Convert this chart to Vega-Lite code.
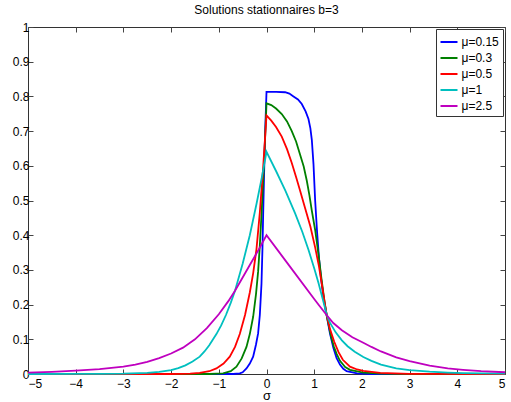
{
  "$schema": "https://vega.github.io/schema/vega-lite/v6.json",
  "width": 477,
  "height": 347,
  "autosize": {"type": "none"},
  "padding": {"left": 28, "top": 27, "right": 6, "bottom": 28},
  "title": {"text": "Solutions stationnaires b=3", "fontSize": 12, "fontWeight": "normal", "font": "Liberation Sans", "color": "black", "offset": 4},
  "config": {
    "font": "Liberation Sans",
    "view": {"stroke": "#333", "strokeWidth": 1},
    "axis": {"grid": false, "domain": false, "tickSize": -5, "tickColor": "#444", "labelFontSize": 12, "labelColor": "black", "labelFont": "Liberation Sans", "labelPadding": 4, "titleFont": "Liberation Sans", "titleFontWeight": "normal", "titleColor": "black"},
    "legend": {"strokeColor": "#333", "fillColor": "white", "padding": 3.5, "cornerRadius": 0}
  },
  "data": {"values": [
    {"mu":"μ=0.15","sigma":-5,"p":0},{"mu":"μ=0.15","sigma":-0.7,"p":0},{"mu":"μ=0.15","sigma":-0.56,"p":0.002},{"mu":"μ=0.15","sigma":-0.5,"p":0.005},{"mu":"μ=0.15","sigma":-0.42,"p":0.016},{"mu":"μ=0.15","sigma":-0.35,"p":0.03},{"mu":"μ=0.15","sigma":-0.28,"p":0.05},{"mu":"μ=0.15","sigma":-0.22,"p":0.085},{"mu":"μ=0.15","sigma":-0.176,"p":0.117},{"mu":"μ=0.15","sigma":-0.14,"p":0.17},{"mu":"μ=0.15","sigma":-0.105,"p":0.26},{"mu":"μ=0.15","sigma":-0.085,"p":0.36},{"mu":"μ=0.15","sigma":-0.07,"p":0.46},{"mu":"μ=0.15","sigma":-0.05,"p":0.58},{"mu":"μ=0.15","sigma":-0.03,"p":0.69},{"mu":"μ=0.15","sigma":0,"p":0.813},{"mu":"μ=0.15","sigma":0.1,"p":0.813},{"mu":"μ=0.15","sigma":0.2,"p":0.813},{"mu":"μ=0.15","sigma":0.39,"p":0.812},{"mu":"μ=0.15","sigma":0.48,"p":0.808},{"mu":"μ=0.15","sigma":0.566,"p":0.8},{"mu":"μ=0.15","sigma":0.66,"p":0.791},{"mu":"μ=0.15","sigma":0.74,"p":0.778},{"mu":"μ=0.15","sigma":0.82,"p":0.757},{"mu":"μ=0.15","sigma":0.88,"p":0.735},{"mu":"μ=0.15","sigma":0.92,"p":0.708},{"mu":"μ=0.15","sigma":0.95,"p":0.675},{"mu":"μ=0.15","sigma":0.985,"p":0.605},{"mu":"μ=0.15","sigma":1.02,"p":0.5},{"mu":"μ=0.15","sigma":1.06,"p":0.41},{"mu":"μ=0.15","sigma":1.1,"p":0.335},{"mu":"μ=0.15","sigma":1.14,"p":0.28},{"mu":"μ=0.15","sigma":1.2,"p":0.215},{"mu":"μ=0.15","sigma":1.26,"p":0.17},{"mu":"μ=0.15","sigma":1.33,"p":0.117},{"mu":"μ=0.15","sigma":1.4,"p":0.076},{"mu":"μ=0.15","sigma":1.47,"p":0.046},{"mu":"μ=0.15","sigma":1.54,"p":0.027},{"mu":"μ=0.15","sigma":1.61,"p":0.015},{"mu":"μ=0.15","sigma":1.68,"p":0.008},{"mu":"μ=0.15","sigma":1.9,"p":0.002},{"mu":"μ=0.15","sigma":2.2,"p":0},{"mu":"μ=0.15","sigma":5,"p":0},
    {"mu":"μ=0.3","sigma":-5,"p":0},{"mu":"μ=0.3","sigma":-1.2,"p":0},{"mu":"μ=0.3","sigma":-0.91,"p":0.002},{"mu":"μ=0.3","sigma":-0.75,"p":0.008},{"mu":"μ=0.3","sigma":-0.63,"p":0.021},{"mu":"μ=0.3","sigma":-0.52,"p":0.045},{"mu":"μ=0.3","sigma":-0.42,"p":0.078},{"mu":"μ=0.3","sigma":-0.35,"p":0.115},{"mu":"μ=0.3","sigma":-0.28,"p":0.165},{"mu":"μ=0.3","sigma":-0.22,"p":0.23},{"mu":"μ=0.3","sigma":-0.176,"p":0.295},{"mu":"μ=0.3","sigma":-0.14,"p":0.37},{"mu":"μ=0.3","sigma":-0.105,"p":0.46},{"mu":"μ=0.3","sigma":-0.05,"p":0.61},{"mu":"μ=0.3","sigma":0,"p":0.78},{"mu":"μ=0.3","sigma":0.1,"p":0.775},{"mu":"μ=0.3","sigma":0.2,"p":0.765},{"mu":"μ=0.3","sigma":0.32,"p":0.749},{"mu":"μ=0.3","sigma":0.43,"p":0.728},{"mu":"μ=0.3","sigma":0.53,"p":0.7},{"mu":"μ=0.3","sigma":0.62,"p":0.67},{"mu":"μ=0.3","sigma":0.7,"p":0.634},{"mu":"μ=0.3","sigma":0.78,"p":0.598},{"mu":"μ=0.3","sigma":0.845,"p":0.557},{"mu":"μ=0.3","sigma":0.9,"p":0.515},{"mu":"μ=0.3","sigma":0.95,"p":0.471},{"mu":"μ=0.3","sigma":1.02,"p":0.415},{"mu":"μ=0.3","sigma":1.09,"p":0.345},{"mu":"μ=0.3","sigma":1.15,"p":0.277},{"mu":"μ=0.3","sigma":1.21,"p":0.215},{"mu":"μ=0.3","sigma":1.26,"p":0.17},{"mu":"μ=0.3","sigma":1.35,"p":0.11},{"mu":"μ=0.3","sigma":1.41,"p":0.08},{"mu":"μ=0.3","sigma":1.47,"p":0.058},{"mu":"μ=0.3","sigma":1.54,"p":0.038},{"mu":"μ=0.3","sigma":1.65,"p":0.02},{"mu":"μ=0.3","sigma":1.75,"p":0.012},{"mu":"μ=0.3","sigma":2.03,"p":0.004},{"mu":"μ=0.3","sigma":2.4,"p":0.001},{"mu":"μ=0.3","sigma":3,"p":0},{"mu":"μ=0.3","sigma":5,"p":0},
    {"mu":"μ=0.5","sigma":-5,"p":0},{"mu":"μ=0.5","sigma":-2,"p":0},{"mu":"μ=0.5","sigma":-1.6,"p":0.001},{"mu":"μ=0.5","sigma":-1.4,"p":0.003},{"mu":"μ=0.5","sigma":-1.2,"p":0.008},{"mu":"μ=0.5","sigma":-1.05,"p":0.016},{"mu":"μ=0.5","sigma":-0.9,"p":0.03},{"mu":"μ=0.5","sigma":-0.77,"p":0.05},{"mu":"μ=0.5","sigma":-0.66,"p":0.078},{"mu":"μ=0.5","sigma":-0.56,"p":0.115},{"mu":"μ=0.5","sigma":-0.45,"p":0.17},{"mu":"μ=0.5","sigma":-0.35,"p":0.235},{"mu":"μ=0.5","sigma":-0.28,"p":0.29},{"mu":"μ=0.5","sigma":-0.21,"p":0.36},{"mu":"μ=0.5","sigma":-0.14,"p":0.465},{"mu":"μ=0.5","sigma":-0.07,"p":0.595},{"mu":"μ=0.5","sigma":0,"p":0.745},{"mu":"μ=0.5","sigma":0.1,"p":0.73},{"mu":"μ=0.5","sigma":0.2,"p":0.712},{"mu":"μ=0.5","sigma":0.32,"p":0.684},{"mu":"μ=0.5","sigma":0.43,"p":0.648},{"mu":"μ=0.5","sigma":0.53,"p":0.608},{"mu":"μ=0.5","sigma":0.62,"p":0.568},{"mu":"μ=0.5","sigma":0.7,"p":0.53},{"mu":"μ=0.5","sigma":0.81,"p":0.478},{"mu":"μ=0.5","sigma":0.92,"p":0.425},{"mu":"μ=0.5","sigma":1.02,"p":0.365},{"mu":"μ=0.5","sigma":1.1,"p":0.31},{"mu":"μ=0.5","sigma":1.17,"p":0.25},{"mu":"μ=0.5","sigma":1.22,"p":0.205},{"mu":"μ=0.5","sigma":1.26,"p":0.172},{"mu":"μ=0.5","sigma":1.33,"p":0.13},{"mu":"μ=0.5","sigma":1.42,"p":0.093},{"mu":"μ=0.5","sigma":1.51,"p":0.063},{"mu":"μ=0.5","sigma":1.6,"p":0.041},{"mu":"μ=0.5","sigma":1.75,"p":0.021},{"mu":"μ=0.5","sigma":1.9,"p":0.013},{"mu":"μ=0.5","sigma":2.03,"p":0.009},{"mu":"μ=0.5","sigma":2.38,"p":0.003},{"mu":"μ=0.5","sigma":3,"p":0.0005},{"mu":"μ=0.5","sigma":5,"p":0},
    {"mu":"μ=1","sigma":-5,"p":0},{"mu":"μ=1","sigma":-4,"p":0.0002},{"mu":"μ=1","sigma":-3.5,"p":0.0005},{"mu":"μ=1","sigma":-3,"p":0.0012},{"mu":"μ=1","sigma":-2.5,"p":0.0035},{"mu":"μ=1","sigma":-2.25,"p":0.006},{"mu":"μ=1","sigma":-2,"p":0.011},{"mu":"μ=1","sigma":-1.85,"p":0.017},{"mu":"μ=1","sigma":-1.7,"p":0.025},{"mu":"μ=1","sigma":-1.55,"p":0.036},{"mu":"μ=1","sigma":-1.4,"p":0.05},{"mu":"μ=1","sigma":-1.3,"p":0.065},{"mu":"μ=1","sigma":-1.2,"p":0.083},{"mu":"μ=1","sigma":-1.05,"p":0.115},{"mu":"μ=1","sigma":-0.95,"p":0.14},{"mu":"μ=1","sigma":-0.85,"p":0.17},{"mu":"μ=1","sigma":-0.75,"p":0.205},{"mu":"μ=1","sigma":-0.66,"p":0.24},{"mu":"μ=1","sigma":-0.5,"p":0.318},{"mu":"μ=1","sigma":-0.35,"p":0.4},{"mu":"μ=1","sigma":-0.21,"p":0.49},{"mu":"μ=1","sigma":-0.1,"p":0.565},{"mu":"μ=1","sigma":0,"p":0.64},{"mu":"μ=1","sigma":0.2,"p":0.585},{"mu":"μ=1","sigma":0.4,"p":0.527},{"mu":"μ=1","sigma":0.6,"p":0.463},{"mu":"μ=1","sigma":0.75,"p":0.41},{"mu":"μ=1","sigma":0.88,"p":0.358},{"mu":"μ=1","sigma":1,"p":0.305},{"mu":"μ=1","sigma":1.09,"p":0.262},{"mu":"μ=1","sigma":1.18,"p":0.215},{"mu":"μ=1","sigma":1.26,"p":0.172},{"mu":"μ=1","sigma":1.33,"p":0.148},{"mu":"μ=1","sigma":1.45,"p":0.12},{"mu":"μ=1","sigma":1.58,"p":0.097},{"mu":"μ=1","sigma":1.7,"p":0.08},{"mu":"μ=1","sigma":1.85,"p":0.064},{"mu":"μ=1","sigma":2.03,"p":0.049},{"mu":"μ=1","sigma":2.2,"p":0.038},{"mu":"μ=1","sigma":2.4,"p":0.027},{"mu":"μ=1","sigma":2.72,"p":0.016},{"mu":"μ=1","sigma":3,"p":0.011},{"mu":"μ=1","sigma":3.42,"p":0.0066},{"mu":"μ=1","sigma":3.8,"p":0.004},{"mu":"μ=1","sigma":4.12,"p":0.0025},{"mu":"μ=1","sigma":5,"p":0.0008},
    {"mu":"μ=2.5","sigma":-5,"p":0.004},{"mu":"μ=2.5","sigma":-4.5,"p":0.006},{"mu":"μ=2.5","sigma":-4,"p":0.0095},{"mu":"μ=2.5","sigma":-3.5,"p":0.014},{"mu":"μ=2.5","sigma":-3,"p":0.021},{"mu":"μ=2.5","sigma":-2.75,"p":0.027},{"mu":"μ=2.5","sigma":-2.5,"p":0.035},{"mu":"μ=2.5","sigma":-2.25,"p":0.046},{"mu":"μ=2.5","sigma":-2,"p":0.059},{"mu":"μ=2.5","sigma":-1.75,"p":0.076},{"mu":"μ=2.5","sigma":-1.5,"p":0.1},{"mu":"μ=2.5","sigma":-1.25,"p":0.132},{"mu":"μ=2.5","sigma":-1,"p":0.172},{"mu":"μ=2.5","sigma":-0.8,"p":0.21},{"mu":"μ=2.5","sigma":-0.66,"p":0.24},{"mu":"μ=2.5","sigma":-0.5,"p":0.278},{"mu":"μ=2.5","sigma":-0.35,"p":0.314},{"mu":"μ=2.5","sigma":-0.17,"p":0.357},{"mu":"μ=2.5","sigma":0,"p":0.4},{"mu":"μ=2.5","sigma":0.5,"p":0.308},{"mu":"μ=2.5","sigma":1,"p":0.216},{"mu":"μ=2.5","sigma":1.1,"p":0.198},{"mu":"μ=2.5","sigma":1.26,"p":0.17},{"mu":"μ=2.5","sigma":1.4,"p":0.147},{"mu":"μ=2.5","sigma":1.58,"p":0.126},{"mu":"μ=2.5","sigma":1.8,"p":0.106},{"mu":"μ=2.5","sigma":2.03,"p":0.09},{"mu":"μ=2.5","sigma":2.2,"p":0.078},{"mu":"μ=2.5","sigma":2.4,"p":0.065},{"mu":"μ=2.5","sigma":2.72,"p":0.048},{"mu":"μ=2.5","sigma":3,"p":0.037},{"mu":"μ=2.5","sigma":3.42,"p":0.024},{"mu":"μ=2.5","sigma":3.8,"p":0.016},{"mu":"μ=2.5","sigma":4.12,"p":0.012},{"mu":"μ=2.5","sigma":4.5,"p":0.008},{"mu":"μ=2.5","sigma":5,"p":0.005}
  ]},
  "layer": [
    {
      "mark": {"type": "line", "strokeWidth": 1.8, "interpolate": "linear"},
      "encoding": {
        "x": {"field": "sigma", "type": "quantitative", "scale": {"domain": [-5, 5], "nice": false, "zero": false},
              "axis": {"orient": "bottom", "values": [-5,-4,-3,-2,-1,0,1,2,3,4,5], "title": "σ", "titleFontSize": 13, "titleBaseline": "alphabetic", "titleY": 25, "labelPadding": 9}},
        "y": {"field": "p", "type": "quantitative", "scale": {"domain": [0, 1], "nice": false},
              "axis": {"orient": "left", "values": [0,0.1,0.2,0.3,0.4,0.5,0.6,0.7,0.8,0.9,1], "format": "~g", "title": null}},
        "color": {"field": "mu", "type": "nominal",
                  "scale": {"domain": ["μ=0.15","μ=0.3","μ=0.5","μ=1","μ=2.5"], "range": ["#0000FF","#008000","#FF0000","#00BFBF","#BF00BF"]},
                  "legend": {"orient": "top-right", "offset": 2, "title": null, "symbolType": "stroke", "symbolSize": 289, "symbolStrokeWidth": 2, "labelFontSize": 12, "labelOffset": 3, "rowPadding": 0}}
      }
    },
    {
      "mark": {"type": "line", "strokeOpacity": 0},
      "encoding": {
        "x": {"field": "sigma", "type": "quantitative", "axis": {"orient": "top", "values": [-5,-4,-3,-2,-1,0,1,2,3,4,5], "labels": false, "title": null}},
        "y": {"field": "p", "type": "quantitative", "axis": {"orient": "right", "values": [0,0.1,0.2,0.3,0.4,0.5,0.6,0.7,0.8,0.9,1], "labels": false, "title": null}},
        "detail": {"field": "mu", "type": "nominal"}
      }
    }
  ],
  "resolve": {"axis": {"x": "independent", "y": "independent"}}
}
